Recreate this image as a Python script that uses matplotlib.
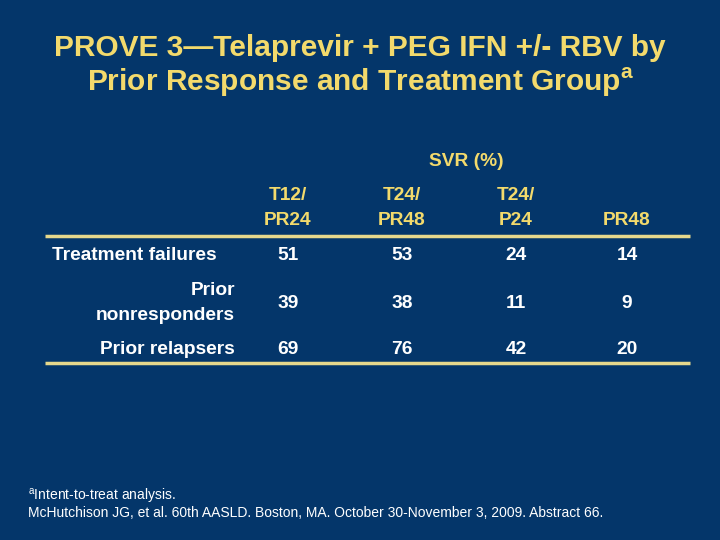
import matplotlib.pyplot as plt

# table data
columns = ['T12/\nPR24', 'T24/\nPR48', 'T24/\nP24', 'PR48']
rows = ['Treatment failures', 'Prior\nnonresponders', 'Prior relapsers']
values = [
    [51, 53, 24, 14],
    [39, 38, 11, 9],
    [69, 76, 42, 20],
]

bg = '#04366A'
yellow = '#F3DA6C'
rule = '#E6D88C'

plt.rcParams['font.family'] = ['Liberation Sans', 'DejaVu Sans']

fig = plt.figure(figsize=(7.2, 5.4), dpi=100, facecolor=bg)
ax = fig.add_axes([0, 0, 1, 1])
ax.set_facecolor(bg)
ax.set_xlim(0, 720)
ax.set_ylim(540, 0)
ax.axis('off')

# title
ax.text(360, 48, 'PROVE 3\u2014Telaprevir + PEG IFN +/- RBV by',
        ha='center', va='center', color=yellow, fontsize=21.5, fontweight='bold')
ax.text(360, 82, 'Prior Response and Treatment Group$^{\\mathregular{a}}$',
        ha='center', va='center', color=yellow, fontsize=21.5, fontweight='bold')

# table layout
col_x = [288, 402, 516, 627]
row_y = [256, 303, 350]
label_x = 235
fs = 13.8

ax.text(466, 162, 'SVR (%)', ha='center', va='center', color=yellow,
        fontsize=fs, fontweight='bold')
for x, c in zip(col_x, columns):
    ax.text(x, 229, c, ha='center', va='bottom', color=yellow,
            fontsize=fs, fontweight='bold', linespacing=1.6)

ax.plot([45, 690], [236, 236], color=rule, lw=2.5, solid_capstyle='butt')
ax.plot([45, 690], [363, 363], color=rule, lw=2.5, solid_capstyle='butt')

for i, (y, lab, vals) in enumerate(zip(row_y, rows, values)):
    if i == 0:
        ax.text(52, y, lab, ha='left', va='center', color='white',
                fontsize=fs, fontweight='bold')
    else:
        ax.text(label_x, y, lab, ha='right', va='center', color='white',
                fontsize=fs, fontweight='bold', linespacing=1.65)
    for x, v in zip(col_x, vals):
        ax.text(x, y, str(v), ha='center', va='center', color='white',
                fontsize=fs, fontweight='bold')

# footnotes
ax.text(28, 497, '$^{\\mathregular{a}}$Intent-to-treat analysis.', ha='left', va='center',
        color='white', fontsize=10)
ax.text(28, 513, 'McHutchison JG, et al. 60th AASLD. Boston, MA. October 30-November 3, 2009. Abstract 66.',
        ha='left', va='center', color='white', fontsize=10)

fig.savefig('out.png', dpi=100, facecolor=bg)
